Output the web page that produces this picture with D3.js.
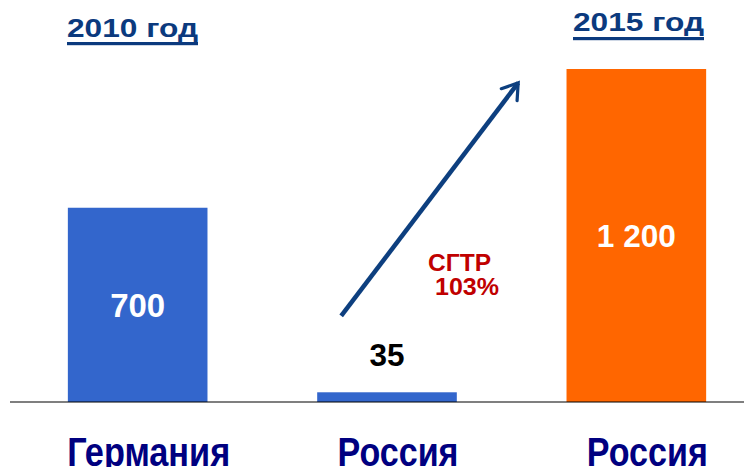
<!DOCTYPE html>
<html>
<head>
<meta charset="utf-8">
<script src="https://cdn.jsdelivr.net/npm/d3@7"></script>
<style>
  body { margin: 0; background: #fff; }
  svg { display: block; font-family: "Liberation Sans", Arial, sans-serif; }
</style>
</head>
<body>
<div id="chart"></div>
<script>
const keys = ["de2010", "ru2010", "ru2015"]
const labels = ["Германия", "Россия", "Россия"]
const values = [700, 35, 1200]
const valueLabels = ["700", "35", "1 200"]
const barColors = ["#3366cc", "#3366cc", "#ff6600"]
const years = ["2010 год", "2015 год"]
const cagr = ["СГТР", "103%"]

const canvas = { width: 744, height: 467, baseY: 402, topY: 69 }

const svg = d3.select("#chart").append("svg")
  .attr("width", canvas.width).attr("height", canvas.height)

const x = d3.scaleBand().domain(keys).range([13, 761]).paddingInner(0.44).paddingOuter(0.22)
const y = d3.scaleLinear().domain([0, 1200]).range([canvas.baseY, canvas.topY])

const data = keys.map((k, i) => ({ key: k, label: labels[i], value: values[i], text: valueLabels[i], color: barColors[i] }))

// bars
svg.selectAll("rect.bar").data(data).join("rect")
  .attr("class", "bar")
  .attr("x", d => x(d.key)).attr("width", x.bandwidth())
  .attr("y", d => y(d.value)).attr("height", d => y(0) - y(d.value))
  .attr("fill", d => d.color)

// baseline
svg.append("line")
  .attr("x1", 10).attr("x2", canvas.width)
  .attr("y1", y(0)).attr("y2", y(0))
  .attr("stroke", "#000").attr("stroke-width", 1.2)

// value labels: small bar -> above in black, others centred in white
const valSize = [34, 31, 31]
const valWidth = [55, 35, 79]
svg.selectAll("text.val").data(data).join("text")
  .attr("class", "val")
  .attr("x", d => x(d.key) + x.bandwidth() / 2)
  .attr("y", (d, i) => d.value < 100 ? y(d.value) - 26 : (y(d.value) + y(0)) / 2 + valSize[i] * 0.36)
  .attr("text-anchor", "middle")
  .attr("font-size", (d, i) => valSize[i]).attr("font-weight", "bold")
  .attr("fill", d => d.value < 100 ? "#000" : "#fff")
  .attr("textLength", (d, i) => valWidth[i]).attr("lengthAdjust", "spacingAndGlyphs")
  .text(d => d.text)

// category labels
svg.selectAll("text.cat").data(data).join("text")
  .attr("class", "cat")
  .attr("x", d => x(d.key) + x.bandwidth() / 2 + 11)
  .attr("y", 466)
  .attr("text-anchor", "middle")
  .style("font-family", "'Liberation Sans Narrow', 'Liberation Sans', Arial, sans-serif")
  .attr("font-size", 40).attr("font-weight", "bold")
  .attr("fill", "#000080")
  .attr("textLength", (d, i) => i === 0 ? 163 : 121).attr("lengthAdjust", "spacingAndGlyphs")
  .text(d => d.label)

// year titles (underlined)
const yearPos = [{ key: "de2010", x: 67, y: 37, u: 42 }, { key: "ru2015", x: 573, y: 31, u: 37 }]
yearPos.forEach((p, i) => {
  svg.append("text")
    .attr("x", p.x).attr("y", p.y)
    .attr("font-size", 26.5).attr("font-weight", "bold")
    .attr("fill", "#0b3a7e")
    .attr("textLength", 131).attr("lengthAdjust", "spacingAndGlyphs")
    .text(years[i])
  svg.append("rect")
    .attr("x", p.x).attr("width", 131)
    .attr("y", p.u).attr("height", 3.2)
    .attr("fill", "#0b3a7e")
})

// growth arrow
const arrowStart = [x("ru2010") + 24, y(310)]
const arrowEnd = [x("ru2010") + 201, y(1150)]
svg.append("defs").append("marker")
  .attr("id", "head").attr("viewBox", "0 0 10 10")
  .attr("refX", 7).attr("refY", 5)
  .attr("markerWidth", 5.5).attr("markerHeight", 5.5)
  .attr("markerUnits", "strokeWidth")
  .attr("orient", "auto")
  .append("path").attr("d", "M1,1 L7,5 L1,9")
  .attr("fill", "none").attr("stroke", "#0d3f7f").attr("stroke-width", 1.3)
  .attr("stroke-linecap", "round").attr("stroke-linejoin", "miter")

svg.append("line")
  .attr("x1", arrowStart[0]).attr("y1", arrowStart[1])
  .attr("x2", arrowEnd[0]).attr("y2", arrowEnd[1])
  .attr("stroke", "#0d3f7f").attr("stroke-width", 4.5)
  .attr("marker-end", "url(#head)")

// CAGR annotation
svg.append("text").attr("x", 428).attr("y", 271)
  .attr("font-size", 24).attr("font-weight", "bold")
  .attr("fill", "#c00000")
  .attr("textLength", 63).attr("lengthAdjust", "spacingAndGlyphs")
  .text(cagr[0])
svg.append("text").attr("x", 435).attr("y", 295)
  .attr("font-size", 24).attr("font-weight", "bold")
  .attr("fill", "#c00000")
  .attr("textLength", 64).attr("lengthAdjust", "spacingAndGlyphs")
  .text(cagr[1])
</script>
</body>
</html>
